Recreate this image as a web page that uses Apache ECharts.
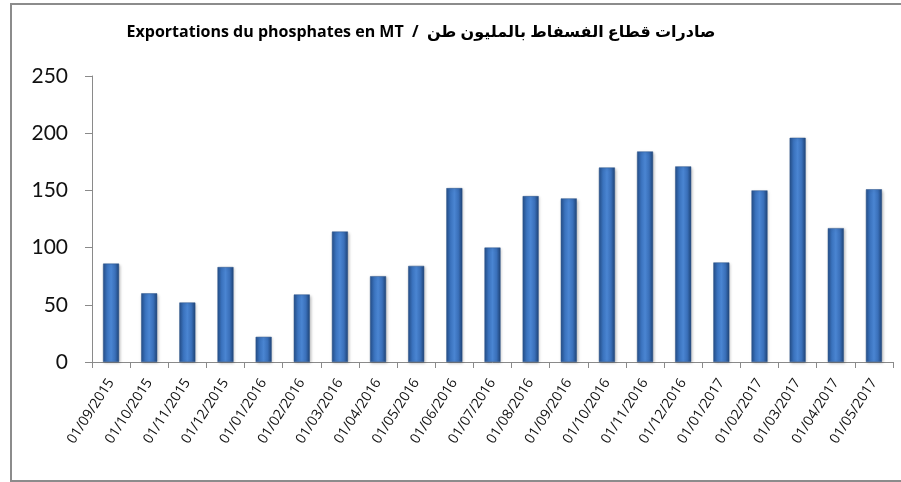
<!DOCTYPE html>
<html>
<head>
<meta charset="utf-8">
<script src="https://cdn.jsdelivr.net/npm/echarts@6/dist/echarts.min.js"></script>
<style>
html,body{margin:0;padding:0;background:#fff;}
#main{width:901px;height:482px;}
</style>
</head>
<body>
<div id="main"></div>
<script>
var categories = ["01/09/2015","01/10/2015","01/11/2015","01/12/2015","01/01/2016","01/02/2016","01/03/2016","01/04/2016","01/05/2016","01/06/2016","01/07/2016","01/08/2016","01/09/2016","01/10/2016","01/11/2016","01/12/2016","01/01/2017","01/02/2017","01/03/2017","01/04/2017","01/05/2017"];
var exportsMT = [86,60,52,83,22,59,114,75,84,152,100,145,143,170,184,171,87,150,196,117,151];
var titleText = "Exportations du phosphates en MT  /  صادرات قطاع الفسفاط بالمليون طن";
var yTicks = {min:0, max:250, interval:50};

var chart = echarts.init(document.getElementById('main'), null, {renderer:'canvas'});
var barColor = new echarts.graphic.LinearGradient(0,0,1,0,[
  {offset:0, color:'#25508c'},
  {offset:0.25, color:'#3a72bd'},
  {offset:0.5, color:'#4a85d2'},
  {offset:0.75, color:'#3a70ba'},
  {offset:1, color:'#1f4478'}
]);
chart.setOption({
  animation:false,
  title:{
    text:titleText,
    left:416, top:19, textAlign:'center',
    textStyle:{fontFamily:'"Open Sans","DejaVu Sans",sans-serif', fontWeight:'bold', fontSize:16, color:'#000'}
  },
  graphic:[{
    type:'rect', silent:true, z:-1,
    shape:{x:11, y:4, width:900, height:477},
    style:{fill:'none', stroke:'#8c8c8c', lineWidth:2}
  }],
  grid:{left:92, right:8, top:76, bottom:120, containLabel:false},
  xAxis:{
    type:'category', data:categories, boundaryGap:true,
    axisLine:{show:true, lineStyle:{color:'#8a8a8a', width:1}},
    axisTick:{show:true, alignWithLabel:false, length:6, lineStyle:{color:'#8a8a8a'}},
    axisLabel:{rotate:57, fontSize:14, color:'#111', margin:18, interval:0,
      fontFamily:'"Open Sans","DejaVu Sans",sans-serif'}
  },
  yAxis:{
    type:'value', min:yTicks.min, max:yTicks.max, interval:yTicks.interval,
    axisLine:{show:true, lineStyle:{color:'#8a8a8a', width:1}},
    axisTick:{show:true, inside:false, length:7, lineStyle:{color:'#8a8a8a'}},
    splitLine:{show:false},
    axisLabel:{fontSize:21, color:'#111', margin:24, fontFamily:'Lato,"Open Sans",sans-serif'}
  },
  series:[{
    type:'bar', data:exportsMT, barWidth:16,
    itemStyle:{color:barColor, borderColor:'#2a5288', borderWidth:0.5,
      shadowColor:'rgba(0,0,0,0.25)', shadowBlur:3, shadowOffsetX:1, shadowOffsetY:1}
  }]
});
</script>
</body>
</html>
